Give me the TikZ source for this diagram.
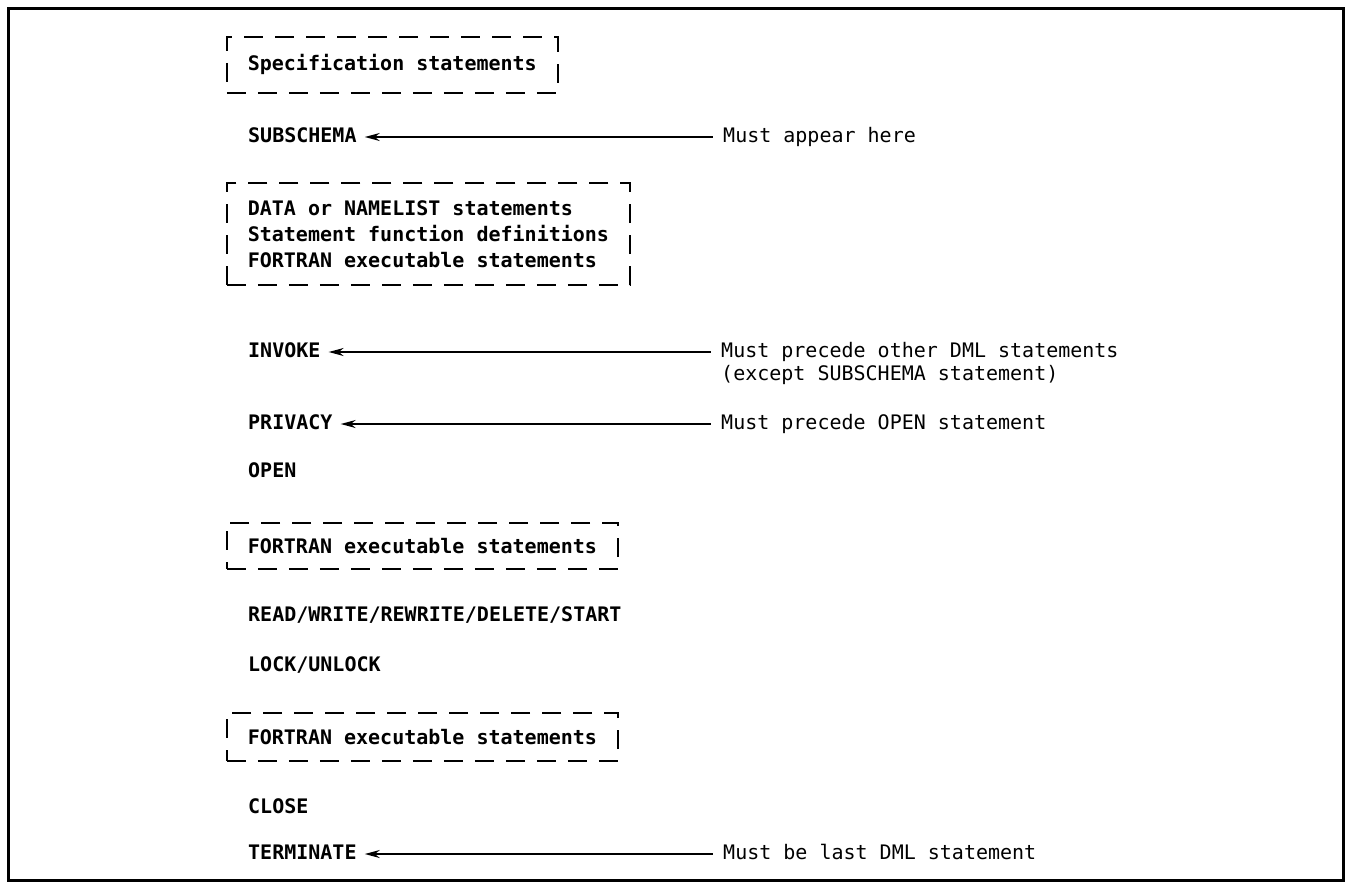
\documentclass[tikz,border=0pt]{standalone}
\usepackage{fontspec}
\newfontfamily\codefont{DejaVu Sans Mono}
\usetikzlibrary{arrows.meta, positioning}

\begin{document}
\begin{tikzpicture}[x=1pt, y=-1pt,
    stmt/.style={anchor=west, inner sep=0pt, text height=14pt, text depth=4pt,
                 font=\codefont\bfseries\fontsize{20}{26}\selectfont},
    note/.style={anchor=west, inner sep=0pt, text height=14pt, text depth=4pt,
                 font=\codefont\fontsize{20}{23}\selectfont},
    dbox/.style={draw, dash pattern=on 19pt off 12pt, line width=1.6pt,
                 anchor=north west, align=left, inner xsep=21pt, inner ysep=0pt,
                 font=\codefont\bfseries\fontsize{20}{26}\selectfont},
    arrow/.style={{Stealth[length=15pt, width=8pt]}-, line width=1.6pt,
                  shorten <=8pt, shorten >=10pt}
  ]
    \useasboundingbox (0,0) rectangle (1348,884);
    \draw[line width=3pt] (8,8) rectangle (1343,880);

    % Dashed groups
    \node[dbox, minimum height=56pt] (spec) at (226,36) {Specification statements};
    \node[dbox, minimum height=102pt] (data) at (226,182)
        {DATA or NAMELIST statements\\Statement function definitions\\FORTRAN executable statements};
    \node[dbox, minimum height=46pt] (exec1) at (226,522) {FORTRAN executable statements};
    \node[dbox, minimum height=48pt] (exec2) at (226,712) {FORTRAN executable statements};

    % Statements
    \node[stmt] (subschema) at (248,137) {SUBSCHEMA};
    \node[stmt] (invoke) at (248,352) {INVOKE};
    \node[stmt] (privacy) at (248,424) {PRIVACY};
    \node[stmt] (open) at (248,472) {OPEN};
    \node[stmt] (readwrite) at (248,616) {READ/WRITE/REWRITE/DELETE/START};
    \node[stmt] (lock) at (248,666) {LOCK/UNLOCK};
    \node[stmt] (close) at (248,808) {CLOSE};
    \node[stmt] (terminate) at (248,854) {TERMINATE};

    % Notes
    \node[note] (n-sub) at (723,137) {Must appear here};
    \node[note] (n-inv) at (721,352) {Must precede other DML statements};
    \node[note, below right=5pt and 0pt of n-inv.south west] (n-inv2) {(except SUBSCHEMA statement)};
    \node[note] (n-priv) at (721,424) {Must precede OPEN statement};
    \node[note] (n-term) at (723,854) {Must be last DML statement};

    % Arrows
    \draw[arrow] (subschema.east) -- (n-sub.west);
    \draw[arrow] (invoke.east) -- (n-inv.west);
    \draw[arrow] (privacy.east) -- (n-priv.west);
    \draw[arrow] (terminate.east) -- (n-term.west);
\end{tikzpicture}
\end{document}
